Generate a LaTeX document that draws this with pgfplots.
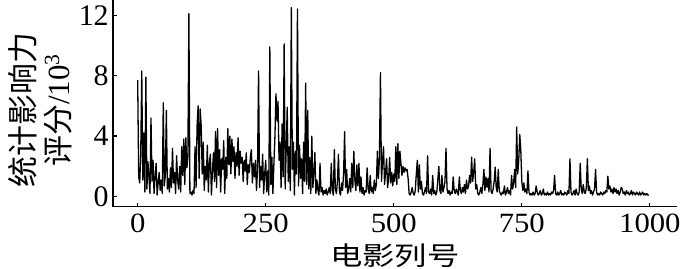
\documentclass[border=0pt]{standalone}
\usepackage{fontspec}
\setmainfont{Liberation Serif}
\newfontfamily\cjk{Noto Sans CJK SC}
\usepackage{pgfplots}
\pgfplotsset{compat=1.18}
\begin{document}
\begin{tikzpicture}
\begin{axis}[name=main,
 scale only axis, width=282.2bp, height=103.3bp,
 xmin=-48.8, xmax=1053, ymin=-0.66, ymax=13.0,
 axis lines=left, axis line style={-, line width=0.85bp},
 xtick={0,250,500,750,1000}, ytick={0,4,8,12},
 tick align=inside, major tick length=2bp, tick style={line width=0.6bp, black},
 /pgf/number format/assume math mode=true,
 /pgf/number format/1000 sep={},
 xticklabel style={font=\fontsize{14}{16}\selectfont, xscale=1.1},
 yticklabel style={font=\fontsize{15}{17}\selectfont, xshift=1.5bp},
 xlabel={\cjk 电影列号},
 ylabel={{\cjk 统计影响力}\\{\cjk 评分}/10\textsuperscript{3}},
 every axis x label/.style={at={(axis description cs:0.5,-0.239)}, anchor=center, font=\fontsize{13}{15}\selectfont, xscale=1.25},
 every axis y label/.style={at={(axis description cs:-0.128,0.468)}, anchor=center, rotate=90, align=center, font=\fontsize{15.5}{17.5}\selectfont},
]
\addplot[black, line width=0.65bp, line join=round] coordinates {
(0,7.7)(2,1.3)(4,0.9)(6,2.9)(8,8.3)(10,1.1)(12,4.2)(14,0.3)(16,7.9)(18,0.5)
(20,2.3)(22,1.3)(24,0.2)(26,5.2)(28,1.0)(30,2.4)(32,0.2)(34,1.3)(36,2.2)(38,0.1)
(40,0.9)(42,1.6)(44,0.4)(46,1.1)(48,0.2)(50,6.2)(52,0.7)(54,1.4)(56,5.7)(58,0.5)
(60,1.2)(62,0.3)(64,1.9)(66,0.6)(68,3.2)(70,0.9)(72,1.6)(74,0.2)(76,2.7)(78,1.1)
(80,0.5)(82,2.0)(84,0.3)(86,3.3)(88,1.4)(90,3.8)(92,0.8)(94,3.9)(96,1.9)(98,2.6)
(100,12.1)(102,0.2)(104,0.3)(106,0.1)(108,0.4)(110,0.2)(112,3.3)(114,0.6)(116,4.7)(118,6.0)
(120,1.2)(122,5.8)(124,4.7)(126,1.5)(128,3.6)(130,0.4)(132,2.0)(134,1.1)(136,3.4)(138,0.3)
(140,2.2)(142,2.8)(144,0.1)(146,1.7)(148,2.9)(150,1.0)(152,4.3)(154,0.6)(156,4.5)(158,1.4)
(160,3.1)(162,0.3)(164,2.5)(166,1.8)(168,3.7)(170,0.2)(172,2.6)(174,1.2)(176,4.5)(178,2.1)
(180,4.0)(182,1.5)(184,3.8)(186,2.3)(188,3.3)(190,1.2)(192,2.9)(194,2.0)(196,3.9)(198,1.4)
(200,3.0)(202,2.2)(204,2.6)(206,1.0)(208,2.4)(210,1.7)(212,2.9)(214,0.8)(216,2.1)(218,1.6)
(220,2.6)(222,3.1)(224,0.9)(226,2.2)(228,1.3)(230,2.4)(232,0.4)(234,1.8)(236,8.3)(238,0.6)
(240,2.0)(242,1.1)(244,2.8)(246,0.2)(248,1.5)(250,2.4)(252,0.3)(254,1.7)(256,0.1)(258,9.9)
(260,0.8)(262,2.6)(264,0.2)(266,2.2)(268,4.0)(270,6.8)(272,5.0)(274,6.3)(276,2.4)(278,3.6)
(280,0.6)(282,4.8)(284,1.3)(286,10.1)(288,0.5)(290,3.2)(292,5.9)(294,1.0)(296,3.3)(298,0.4)
(300,12.5)(302,1.8)(304,3.6)(306,0.1)(308,3.0)(310,1.5)(312,12.4)(314,0.7)(316,3.4)(318,1.2)
(320,2.5)(322,0.2)(324,3.6)(326,1.0)(328,7.5)(330,0.8)(332,5.7)(334,0.5)(336,2.6)(338,0.2)
(340,4.0)(342,0.6)(344,1.5)(346,2.9)(348,0.2)(350,1.1)(352,0.4)(354,0.1)(356,2.2)(358,0.3)
(360,0.6)(362,0.1)(364,0.4)(366,0.2)(368,0.5)(370,0.1)(372,0.3)(374,0.6)(376,0.2)(378,2.2)
(380,0.4)(382,0.1)(384,3.1)(386,0.5)(388,0.2)(390,1.0)(392,2.8)(394,0.3)(396,0.1)(398,0.9)
(400,0.4)(402,1.5)(404,4.3)(406,0.6)(408,1.8)(410,0.2)(412,0.5)(414,1.2)(416,0.3)(418,2.2)
(420,0.6)(422,3.0)(424,1.1)(426,0.4)(428,2.1)(430,0.7)(432,2.2)(434,0.3)(436,1.3)(438,0.2)
(440,0.6)(442,0.1)(444,0.4)(446,0.3)(448,1.9)(450,0.5)(452,0.2)(454,1.4)(456,0.3)(458,0.6)
(460,0.2)(462,1.1)(464,0.4)(466,0.8)(468,3.0)(470,1.2)(472,2.5)(474,8.2)(476,1.0)(478,2.3)
(480,3.3)(482,0.8)(484,1.6)(486,2.5)(488,0.6)(490,1.2)(492,2.6)(494,0.9)(496,1.6)(498,0.7)
(500,1.5)(502,1.0)(504,3.3)(506,0.8)(508,3.5)(510,1.2)(512,3.0)(514,2.2)(516,1.4)(518,2.0)
(520,1.6)(522,1.9)(524,1.7)(526,1.8)(528,1.2)(530,0.2)(532,0.1)(534,0.3)(536,0.6)(538,0.2)
(540,0.1)(542,0.4)(544,1.5)(546,2.4)(548,0.3)(550,2.1)(552,0.5)(554,1.0)(556,0.2)(558,0.1)
(560,0.3)(562,0.6)(564,0.2)(566,2.7)(568,0.3)(570,0.2)(572,0.5)(574,0.1)(576,1.4)(578,0.2)
(580,0.4)(582,0.1)(584,0.3)(586,1.1)(588,2.0)(590,0.4)(592,0.2)(594,1.4)(596,0.3)(598,0.6)
(600,1.0)(602,3.2)(604,0.5)(606,0.2)(608,0.4)(610,0.1)(612,0.3)(614,0.2)(616,1.3)(618,0.4)
(620,0.2)(622,0.5)(624,0.3)(626,0.1)(628,1.3)(630,0.4)(632,0.2)(634,0.6)(636,0.3)(638,0.8)
(640,0.2)(642,1.1)(644,0.5)(646,0.7)(648,1.4)(650,0.9)(652,2.6)(654,1.0)(656,1.6)(658,2.5)
(660,0.5)(662,0.8)(664,0.2)(666,0.1)(668,0.3)(670,0.6)(672,0.2)(674,0.8)(676,1.8)(678,0.4)
(680,1.3)(682,0.6)(684,1.2)(686,0.3)(688,3.2)(690,0.4)(692,0.2)(694,0.5)(696,1.0)(698,1.95)
(700,0.6)(702,0.3)(704,1.8)(706,0.4)(708,0.2)(710,0.1)(712,0.3)(714,0.2)(716,0.7)(718,0.1)
(720,0.3)(722,0.6)(724,0.2)(726,0.4)(728,0.1)(730,1.4)(732,0.5)(734,0.9)(736,1.8)(738,0.6)
(740,4.6)(742,1.5)(744,2.4)(746,4.1)(748,3.1)(750,1.0)(752,0.4)(754,0.9)(756,0.3)(758,0.5)
(760,0.2)(762,1.7)(764,0.3)(766,0.1)(768,0.2)(770,0.1)(772,0.3)(774,0.1)(776,0.2)(778,0.7)
(780,0.3)(782,0.1)(784,0.2)(786,0.4)(788,0.1)(790,0.2)(792,0.5)(794,0.1)(796,0.2)(798,0.1)
(800,0.3)(802,0.1)(804,0.2)(806,0.1)(808,0.3)(810,0.2)(812,0.4)(814,1.4)(816,0.2)(818,0.1)
(820,0.3)(822,0.1)(824,0.2)(826,0.4)(828,0.1)(830,0.2)(832,0.1)(834,0.3)(836,0.2)(838,0.1)
(840,0.4)(842,0.2)(844,2.5)(846,0.3)(848,0.1)(850,0.2)(852,0.4)(854,0.1)(856,0.5)(858,0.2)
(860,0.1)(862,0.3)(864,2.2)(866,0.5)(868,0.2)(870,0.8)(872,0.3)(874,0.2)(876,0.6)(878,2.5)
(880,0.4)(882,0.7)(884,0.2)(886,0.4)(888,0.1)(890,0.3)(892,0.5)(894,1.8)(896,0.3)(898,0.1)
(900,0.2)(902,0.1)(904,0.3)(906,0.2)(908,0.1)(910,0.3)(912,0.2)(914,0.4)(916,0.3)(918,1.35)
(920,0.5)(922,0.7)(924,0.3)(926,0.5)(928,0.2)(930,0.6)(932,0.3)(934,0.5)(936,0.2)(938,0.4)
(940,0.1)(942,0.3)(944,0.6)(946,0.5)(948,0.2)(950,0.3)(952,0.1)(954,0.4)(956,0.2)(958,0.3)
(960,0.1)(962,0.2)(964,0.4)(966,0.1)(968,0.3)(970,0.2)(972,0.1)(974,0.3)(976,0.2)(978,0.1)
(980,0.3)(982,0.1)(984,0.2)(986,0.3)(988,0.1)(990,0.2)(992,0.1)(994,0.2)(996,0.1)(998,0.1)
};
\end{axis}
\pgfresetboundingbox
\path[use as bounding box] ([xshift=-56.35bp,yshift=-31.15bp]main.south west) rectangle ([xshift=2.5bp]main.north east);
\end{tikzpicture}
\end{document}
